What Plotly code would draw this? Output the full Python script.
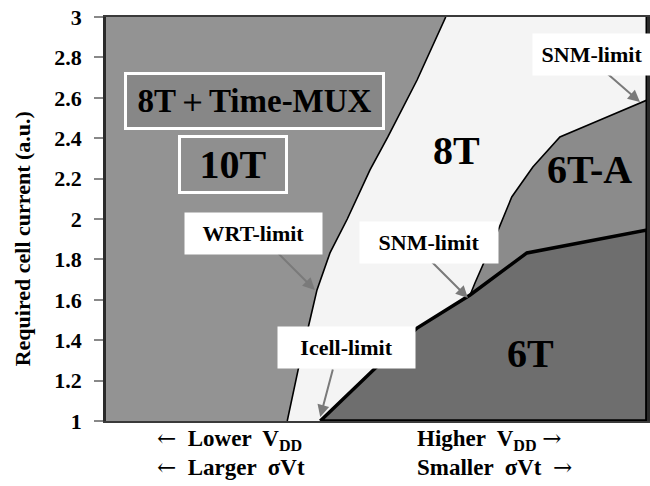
import plotly.graph_objects as go

# ---- data (x in arbitrary 0-100 units: lower VDD -> higher VDD) ----
wrt_x = [33.5, 35.5, 37.7, 39.0, 41.4, 44.6, 48.8, 52.1, 57.5, 62.8]
wrt_y = [1.0, 1.252, 1.5, 1.649, 1.832, 2.0, 2.243, 2.406, 2.688, 3.0]

t6_x = [39.6, 57.5, 67.3, 77.8, 100]
t6_y = [1.0, 1.46, 1.624, 1.832, 1.946]

t6a_x = [67.3, 68.2, 72.5, 75.0, 78.9, 83.9, 91.3, 100]
t6a_y = [1.624, 1.683, 1.946, 2.109, 2.257, 2.406, 2.490, 2.589]

y_ticks = [1, 1.2, 1.4, 1.6, 1.8, 2, 2.2, 2.4, 2.6, 2.8, 3]
y_tick_text = ["1", "1.2", "1.4", "1.6", "1.8", "2", "2.2", "2.4", "2.6", "2.8", "3"]

region_labels = ["8T", "6T-A", "6T"]
region_lx = [64.7, 89.3, 78.4]
region_ly = [2.337, 2.243, 1.332]

limit_labels = ["WRT-limit", "SNM-limit", "Icell-limit", "SNM-limit"]
limit_lx = [27.3, 59.7, 44.5, 89.8]
limit_ly = [1.926, 1.884, 1.366, 2.812]
limit_w = [137, 138, 137, 118]
arrow_tail_x = [31.2, 59.5, 42.0, 91.3]
arrow_tail_y = [1.847, 1.807, 1.262, 2.752]
arrow_head_x = [38.6, 66.9, 39.6, 98.7]
arrow_head_y = [1.649, 1.609, 1.02, 2.579]

FONT = "Liberation Serif, Times New Roman, serif"
C_BG = "#939393"
C_8T = "#f4f4f4"
C_6TA = "#8b8b8b"
C_6T = "#6e6e6e"

fig = go.Figure()

# 8T region (white) bounded by WRT curve on the left
fig.add_trace(go.Scatter(
    x=wrt_x + [100, 100], y=wrt_y + [3, 1], fill="toself", fillcolor=C_8T,
    mode="none", hoverinfo="skip", showlegend=False))
# 6T-A region
fig.add_trace(go.Scatter(
    x=t6a_x + list(reversed(t6_x[2:])), y=t6a_y + list(reversed(t6_y[2:])),
    fill="toself", fillcolor=C_6TA, mode="none", hoverinfo="skip", showlegend=False))
# 6T region
fig.add_trace(go.Scatter(
    x=t6_x + [100], y=t6_y + [1], fill="toself", fillcolor=C_6T,
    mode="none", hoverinfo="skip", showlegend=False))

# boundary lines
fig.add_trace(go.Scatter(x=wrt_x, y=wrt_y, mode="lines", line=dict(color="black", width=1.6),
                         hoverinfo="skip", showlegend=False, cliponaxis=False))
fig.add_trace(go.Scatter(x=t6a_x, y=t6a_y, mode="lines", line=dict(color="black", width=1.6),
                         hoverinfo="skip", showlegend=False, cliponaxis=False))
fig.add_trace(go.Scatter(x=t6_x + [100, t6_x[0]], y=t6_y + [1, 1], mode="lines",
                         line=dict(color="black", width=3.5),
                         hoverinfo="skip", showlegend=False, cliponaxis=False))
fig.add_trace(go.Scatter(x=[100, 100], y=[1, 3], mode="lines",
                         line=dict(color="black", width=3),
                         hoverinfo="skip", showlegend=False, cliponaxis=False))

ann = []
# region labels
for t, x, y in zip(region_labels, region_lx, region_ly):
    ann.append(dict(x=x, y=y, xref="x", yref="y", text="<b>%s</b>" % t, showarrow=False,
                    font=dict(family=FONT, size=40, color="black")))

# boxed labels top-left
ann.append(dict(x=27.4, y=2.584, xref="x", yref="y", text="<b>8T</b>＋<b>Time-MUX</b>", showarrow=False,
                font=dict(family=FONT, size=33, color="black"), bgcolor="#878787",
                bordercolor="white", borderwidth=3, borderpad=0, width=255, height=52))
ann.append(dict(x=23.5, y=2.270, xref="x", yref="y", text="<b>10T</b>", showarrow=False,
                font=dict(family=FONT, size=40, color="black"), bgcolor="#8f8f8f",
                bordercolor="white", borderwidth=3, borderpad=0, width=104, height=53))

# limit arrows
for tx, ty, hx, hy in zip(arrow_tail_x, arrow_tail_y, arrow_head_x, arrow_head_y):
    ann.append(dict(x=hx, y=hy, ax=tx, ay=ty, xref="x", yref="y", axref="x", ayref="y",
                    text="", showarrow=True, arrowhead=2, arrowsize=1.2, arrowwidth=2,
                    arrowcolor="#7a7a7a"))
# limit labels
for t, x, y, w in zip(limit_labels, limit_lx, limit_ly, limit_w):
    ann.append(dict(x=x, y=y, xref="x", yref="y", text="<b>%s</b>" % t, showarrow=False,
                    font=dict(family=FONT, size=22, color="black"), bgcolor="white",
                    borderpad=0, width=w, height=41))

# x-axis direction labels
LA = "<span style='font-family:DejaVu Serif'>←</span>"
RA = "<span style='font-family:DejaVu Serif'>→</span>"
xl = [
    (0.0906, -0.047, LA + "  <b>Lower  V<sub>DD</sub></b>"),
    (0.0906, -0.114, LA + "  <b>Larger  σVt</b>"),
    (0.571, -0.047, "<b>Higher  V<sub>DD</sub></b> " + RA),
    (0.571, -0.114, "<b>Smaller  σVt</b>  " + RA),
]
for x, y, t in xl:
    ann.append(dict(x=x, y=y, xref="paper", yref="paper", text=t, showarrow=False,
                    xanchor="left", yanchor="middle",
                    font=dict(family=FONT, size=23, color="black")))

# y title
ann.append(dict(x=-0.155, y=0.45, xref="paper", yref="paper", text="<b>Required cell current (a.u.)</b>",
                textangle=-90, showarrow=False, xanchor="center", yanchor="middle",
                font=dict(family=FONT, size=22, color="black")))

fig.update_layout(
    width=650, height=486,
    margin=dict(l=106, r=3, t=17, b=65),
    paper_bgcolor="white", plot_bgcolor=C_BG,
    annotations=ann, showlegend=False, hovermode=False,
    xaxis=dict(range=[0, 100], showticklabels=False, ticks="", showgrid=False, zeroline=False,
               showline=True, linecolor="#3a3a3a", linewidth=1.5, mirror=True),
    yaxis=dict(range=[1, 3], tickvals=y_ticks, ticktext=y_tick_text, ticks="outside", ticklen=9,
               tickcolor="#888888", tickwidth=1.5, showgrid=False, zeroline=False,
               showline=True, linecolor="#2a2a2a", linewidth=2.5, mirror=True,
               ticklabelstandoff=8, ticklabeloverflow="allow", automargin=False,
               tickfont=dict(family=FONT, size=22, color="black", weight="bold")),
)

# remove the browser's default 8px body margin so the figure sits at the page origin
fig.write_html("out.html", config={"displayModeBar": False},
               post_script="document.body.style.margin='0px';")
